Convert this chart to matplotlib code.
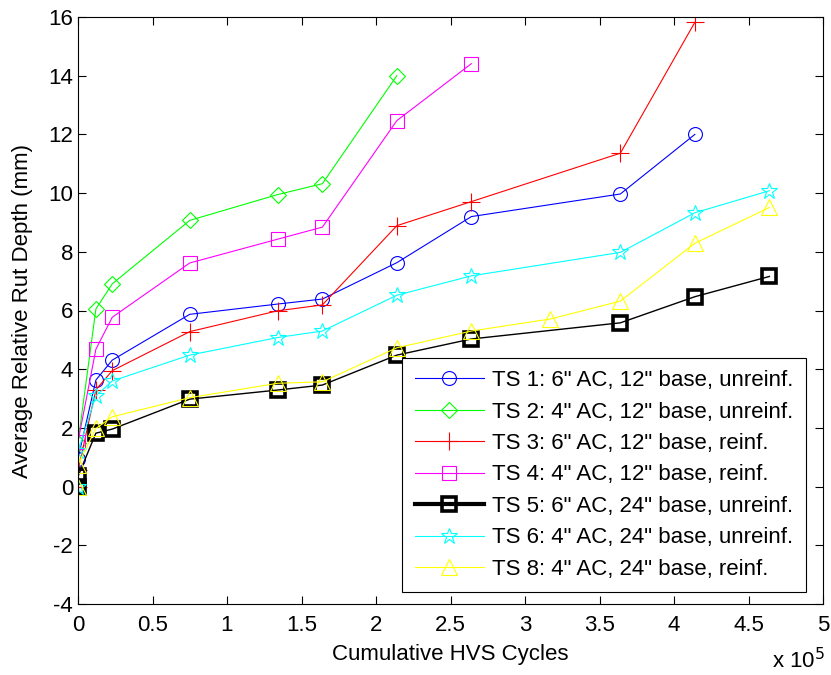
import numpy as np
import matplotlib.pyplot as plt

plt.rcParams['font.family'] = ['Liberation Sans', 'DejaVu Sans']
plt.rcParams['axes.unicode_minus'] = False

# cycles in units of 1e5
x_ts1 = [0, 0, 0.12, 0.23, 0.75, 1.34, 1.64, 2.14, 2.64, 3.64, 4.14]
y_ts1 = [0, 0.95, 3.63, 4.31, 5.87, 6.22, 6.39, 7.63, 9.2, 9.97, 12.0]

x_ts2 = [0, 0, 0.12, 0.23, 0.75, 1.34, 1.64, 2.14]
y_ts2 = [0, 1.5, 6.05, 6.91, 9.07, 9.95, 10.32, 14.0]

x_ts3 = [0, 0, 0.12, 0.23, 0.75, 1.34, 1.64, 2.14, 2.64, 3.64, 4.14]
y_ts3 = [0, 0.55, 3.3, 3.95, 5.28, 5.99, 6.19, 8.89, 9.71, 11.36, 15.82]

x_ts4 = [0, 0, 0.12, 0.23, 0.75, 1.34, 1.64, 2.14, 2.64]
y_ts4 = [0, 1.53, 4.68, 5.77, 7.62, 8.43, 8.84, 12.47, 14.41]

x_ts5 = [0, 0, 0.12, 0.23, 0.75, 1.34, 1.64, 2.14, 2.64, 3.64, 4.14, 4.64]
y_ts5 = [0, 0.35, 1.82, 1.96, 2.98, 3.29, 3.46, 4.48, 5.03, 5.58, 6.47, 7.16]

x_ts6 = [0, 0, 0.12, 0.23, 0.75, 1.34, 1.64, 2.14, 2.64, 3.64, 4.14, 4.64]
y_ts6 = [0, 1.2, 3.09, 3.6, 4.48, 5.08, 5.3, 6.52, 7.18, 7.98, 9.33, 10.08]

x_ts8 = [0, 0, 0.12, 0.23, 0.75, 1.34, 1.64, 2.14, 2.64, 3.17, 3.64, 4.14, 4.64]
y_ts8 = [0, 0.75, 1.98, 2.38, 3.03, 3.52, 3.57, 4.73, 5.3, 5.71, 6.32, 8.29, 9.51]

labels = ['TS 1: 6" AC, 12" base, unreinf.',
          'TS 2: 4" AC, 12" base, unreinf.',
          'TS 3: 6" AC, 12" base, reinf.',
          'TS 4: 4" AC, 12" base, reinf.',
          'TS 5: 6" AC, 24" base, unreinf.',
          'TS 6: 4" AC, 24" base, unreinf.',
          'TS 8: 4" AC, 24" base, reinf.']

W, H = 831, 675
fig = plt.figure(figsize=(W / 100, H / 100), dpi=100)
ax = fig.add_axes([78 / W, 1 - 604 / H, 745 / W, 587 / H])

FS = 16
thin = dict(lw=0.8, markersize=10, markerfacecolor='none', markeredgewidth=0.8)
ax.plot(x_ts1, y_ts1, color=(0, 0, 1), marker='o', label=labels[0], **thin)
ax.plot(x_ts2, y_ts2, color=(0, 1, 0), marker='D', label=labels[1],
        lw=0.8, markersize=8, markerfacecolor='none', markeredgewidth=0.8)
ax.plot(x_ts3, y_ts3, color=(1, 0, 0), marker='+', label=labels[2],
        lw=0.8, markersize=13, markeredgewidth=0.8)
ax.plot(x_ts4, y_ts4, color=(1, 0, 1), marker='s', label=labels[3], **thin)
ax.plot(x_ts5, y_ts5, color='k', marker='s', label=labels[4],
        lw=1.0, markersize=10, markerfacecolor='none', markeredgewidth=2.6)
ax.plot(x_ts6, y_ts6, color=(0, 1, 1), marker='*', label=labels[5],
        lw=0.8, markersize=12, markerfacecolor='none', markeredgewidth=0.8)
ax.plot(x_ts8, y_ts8, color=(1, 1, 0), marker='^', label=labels[6],
        lw=0.8, markersize=12, markerfacecolor='none', markeredgewidth=0.8)

ax.set_xlim(0, 5)
ax.set_ylim(-4, 16)
ax.set_xticks(np.arange(0, 5.01, 0.5))
ax.set_xticklabels(['0', '0.5', '1', '1.5', '2', '2.5', '3', '3.5', '4', '4.5', '5'])
ax.set_yticks(np.arange(-4, 17, 2))
ax.tick_params(direction='in', top=True, right=True, labelsize=FS, length=6, width=0.8)
ax.tick_params(axis='x', pad=8)
for s in ax.spines.values():
    s.set_linewidth(0.8)

ax.set_xlabel('Cumulative HVS Cycles', fontsize=FS, labelpad=6)
ax.set_ylabel('Average Relative Rut Depth (mm)', fontsize=FS)
ax.yaxis.set_label_coords(-0.060, 0.5)
fig.text(772 / W, 1 - 673 / H, r'x 10$^5$', fontsize=FS, ha='left', va='bottom')

leg = ax.legend(loc='lower right', bbox_to_anchor=(806 / W, 1 - 592 / H),
                bbox_transform=fig.transFigure, fontsize=FS, frameon=True,
                fancybox=False, edgecolor='k', framealpha=1, handlelength=3.1,
                borderaxespad=0, labelspacing=0.47, borderpad=0.55, handletextpad=0.4)
leg.get_frame().set_linewidth(0.8)
leg.get_lines()[4].set_linewidth(3)

fig.savefig('out.png', dpi=100)
